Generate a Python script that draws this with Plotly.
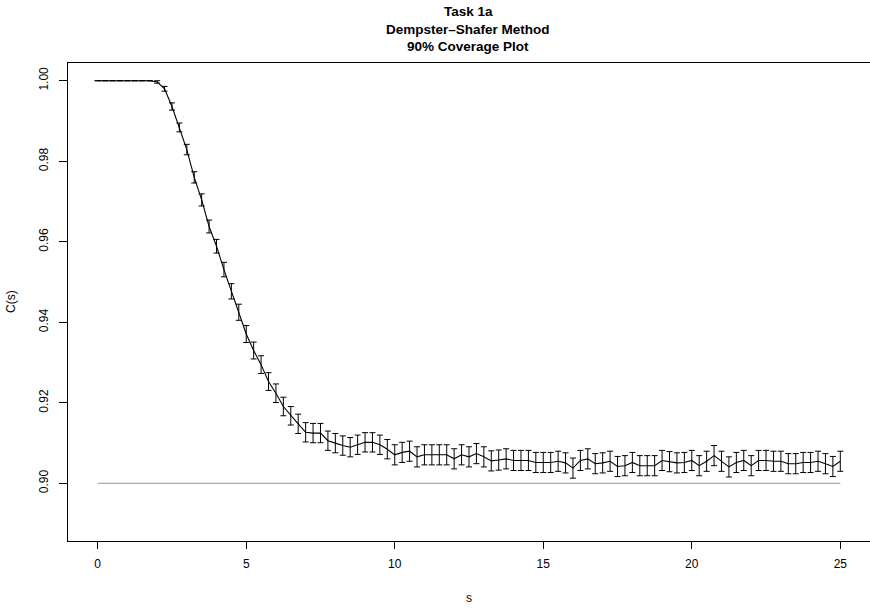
import plotly.graph_objects as go

# Coverage C(s) estimates, s = 0, 0.25, ..., 25
coverage = [
    1.0, 1.0, 1.0, 1.0, 1.0, 1.0, 1.0, 1.0,
    0.9997, 0.9980, 0.9936, 0.9884, 0.9829, 0.9760, 0.9704, 0.9638,
    0.9589, 0.9531, 0.9477, 0.9425, 0.9371, 0.9330, 0.9295, 0.9253,
    0.9224, 0.9191, 0.9168, 0.9148, 0.9127, 0.9125, 0.9125, 0.9106,
    0.9100, 0.9094, 0.9090, 0.9096, 0.9102, 0.9102, 0.9096, 0.9085,
    0.9071, 0.9077, 0.9080, 0.9066, 0.9071, 0.9071, 0.9071, 0.9071,
    0.9061, 0.9071, 0.9066, 0.9074, 0.9066, 0.9056, 0.9058, 0.9061,
    0.9057, 0.9057, 0.9057, 0.9052, 0.9052, 0.9052, 0.9055, 0.9051,
    0.9038, 0.9057, 0.9061, 0.9049, 0.9051, 0.9055, 0.9042, 0.9044,
    0.9052, 0.9044, 0.9044, 0.9044, 0.9057, 0.9054, 0.9051, 0.9052,
    0.9057, 0.9044, 0.9055, 0.9069, 0.9055, 0.9041, 0.9052, 0.9057,
    0.9044, 0.9057, 0.9057, 0.9055, 0.9055, 0.9049, 0.9049, 0.9052,
    0.9052, 0.9055, 0.9049, 0.9042, 0.9055,
]

# half-width of error bars
errors = [
    0.0, 0.0, 0.0, 0.0, 0.0, 0.0, 0.0, 0.0,
    0.0003, 0.0006, 0.0009, 0.0011, 0.0013, 0.0014, 0.0015, 0.0016,
    0.0017, 0.0018, 0.0019, 0.0020, 0.0021, 0.0021, 0.0022, 0.0022,
    0.0023, 0.0023, 0.0023, 0.0024, 0.0024, 0.0024, 0.0024, 0.0024,
    0.0024, 0.0024, 0.0024, 0.0024, 0.0024, 0.0024, 0.0024, 0.0024,
    0.0025, 0.0025, 0.0025, 0.0025, 0.0025, 0.0025, 0.0025, 0.0025,
    0.0025, 0.0025, 0.0025, 0.0025, 0.0025, 0.0025, 0.0025, 0.0025,
    0.0025, 0.0025, 0.0025, 0.0025, 0.0025, 0.0025, 0.0025, 0.0025,
    0.0025, 0.0025, 0.0025, 0.0025, 0.0025, 0.0025, 0.0025, 0.0025,
    0.0025, 0.0025, 0.0025, 0.0025, 0.0025, 0.0025, 0.0025, 0.0025,
    0.0025, 0.0025, 0.0025, 0.0025, 0.0025, 0.0025, 0.0025, 0.0025,
    0.0025, 0.0025, 0.0025, 0.0025, 0.0025, 0.0025, 0.0025, 0.0025,
    0.0025, 0.0025, 0.0025, 0.0025, 0.0025,
]

s_values = [0.25 * i for i in range(len(coverage))]

nominal_s = [0, 25]
nominal_c = [0.90, 0.90]

y_ticks = [0.90, 0.92, 0.94, 0.96, 0.98, 1.00]
x_ticks = [0, 5, 10, 15, 20, 25]

title_lines = ["Task 1a", "Dempster–Shafer Method", "90% Coverage Plot"]
x_title = "s"
y_title = "C(s)"

FONT = "Liberation Sans, Arial, Helvetica, sans-serif"

W, H = 870, 610
ML, MR, MT, MB = 68, 0, 63, 69
PW, PH = W - ML - MR, H - MT - MB


def px_to_paper_x(px):
    return (px - ML) / PW


def px_to_paper_y(py):
    return (H - MB - py) / PH


fig = go.Figure()
fig.add_trace(go.Scatter(
    x=nominal_s, y=nominal_c, mode="lines",
    line=dict(color="#aaaaaa", width=1.2), showlegend=False, hoverinfo="skip",
))
fig.add_trace(go.Scatter(
    x=s_values, y=coverage, mode="lines",
    line=dict(color="black", width=1.1),
    error_y=dict(type="data", array=errors, visible=True, color="black",
                 thickness=1.0, width=3),
    showlegend=False,
))

annotations = []
for i, line in enumerate(title_lines):
    annotations.append(dict(
        text="<b>%s</b>" % line, xref="paper", yref="paper",
        x=px_to_paper_x(468), y=px_to_paper_y(11 + 18 * i),
        xanchor="center", yanchor="middle", showarrow=False,
        font=dict(family=FONT, size=13.5, color="black"),
    ))
annotations.append(dict(
    text=x_title, xref="paper", yref="paper",
    x=px_to_paper_x(469), y=px_to_paper_y(598),
    xanchor="center", yanchor="middle", showarrow=False,
    font=dict(family=FONT, size=12, color="black"),
))
annotations.append(dict(
    text=y_title, xref="paper", yref="paper",
    x=px_to_paper_x(11), y=px_to_paper_y(302),
    xanchor="center", yanchor="middle", showarrow=False, textangle=-90,
    font=dict(family=FONT, size=12, color="black"),
))

fig.update_layout(
    width=W, height=H,
    margin=dict(l=ML, r=MR, t=MT, b=MB, autoexpand=False),
    paper_bgcolor="white", plot_bgcolor="white",
    font=dict(family=FONT, size=12, color="black"),
    annotations=annotations,
    xaxis=dict(
        range=[-1, 26], tickvals=x_ticks, ticktext=[str(v) for v in x_ticks],
        showgrid=False, zeroline=False, showline=True, linecolor="black",
        linewidth=1, mirror=True, ticks="outside", ticklen=7, tickcolor="black",
        tickwidth=1, ticklabelstandoff=5, tickfont=dict(size=12),
        automargin=False,
    ),
    yaxis=dict(
        range=[0.8857, 1.0044], tickvals=y_ticks,
        ticktext=["%.2f" % v for v in y_ticks],
        showgrid=False, zeroline=False, showline=True, linecolor="black",
        linewidth=1, ticks="outside", ticklen=8, tickcolor="black",
        tickwidth=1, tickangle=-90, ticklabelstandoff=6, tickfont=dict(size=12),
        automargin=False,
    ),
)

fig.write_html(
    "out.html",
    config={"displayModeBar": False},
    post_script="document.body.style.margin='0';document.body.style.padding='0';"
                "document.body.style.overflow='hidden';",
)
